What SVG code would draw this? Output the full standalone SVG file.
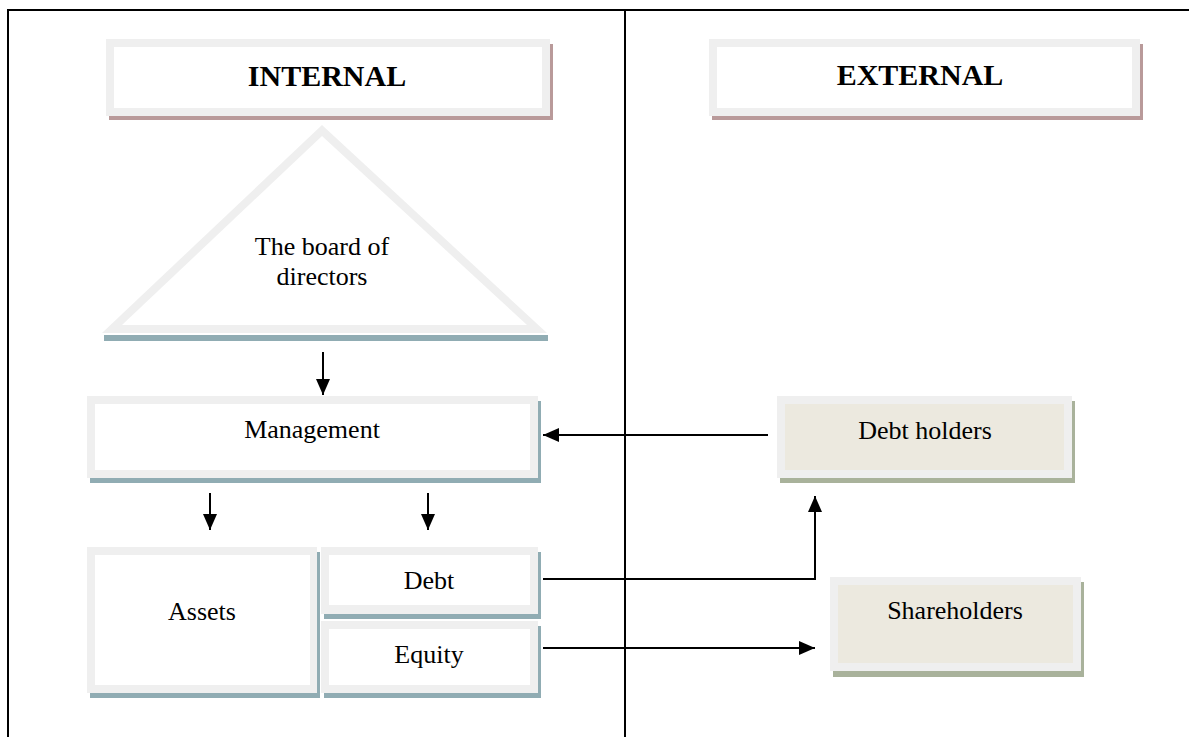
<svg xmlns="http://www.w3.org/2000/svg" width="1189" height="737" viewBox="0 0 1189 737">
<style>
.frame{stroke:#000;stroke-width:2;fill:none}
.border{fill:#efefef}
.inner{fill:#fff}
.beige{fill:#ece9df}
.sh-pink{fill:#b99a9a}
.sh-blue{fill:#90acb3}
.sh-olive{fill:#a9b29b}
.lbl{font-family:"Liberation Serif","Times New Roman",serif;font-size:26px;fill:#000;text-anchor:middle}
.hdr{font-family:"Liberation Serif","Times New Roman",serif;font-size:30px;font-weight:bold;fill:#000;text-anchor:middle}
.conn{stroke:#000;stroke-width:2;fill:none}
</style>
<defs>
<marker id="arr" viewBox="0 0 16 14" refX="16" refY="7" markerWidth="16" markerHeight="14" markerUnits="userSpaceOnUse" orient="auto">
<path d="M0,0 L16,7 L0,14 Z" fill="#000"/>
</marker>
</defs>
<rect width="1189" height="737" fill="#fff"/>
<g id="frame">
<line class="frame" x1="8" y1="10" x2="1189" y2="10"/>
<line class="frame" x1="8" y1="9" x2="8" y2="737"/>
<line class="frame" x1="625" y1="10" x2="625" y2="737"/>
</g>
<g id="internal">
<rect class="sh-pink" x="109" y="44" width="444" height="76"/>
<rect class="border" x="106" y="39" width="444" height="77"/>
<rect class="inner" x="114" y="47" width="428" height="61"/>
<text class="hdr" x="327" y="86">INTERNAL</text>
</g>
<g id="external">
<rect class="sh-pink" x="712" y="44" width="431" height="76"/>
<rect class="border" x="709" y="39" width="431" height="77"/>
<rect class="inner" x="717" y="47" width="415" height="61"/>
<text class="hdr" x="920" y="85">EXTERNAL</text>
</g>
<g id="board">
<rect class="sh-blue" x="104" y="335" width="444" height="6"/>
<polygon class="border" points="322,125 547,333 102,333"/>
<polygon class="inner" points="322,136 527,325 122,325"/>
<text class="lbl" x="322" y="255">The board of</text>
<text class="lbl" x="322" y="285">directors</text>
</g>
<g id="management">
<rect class="sh-blue" x="90" y="401" width="451" height="82"/>
<rect class="border" x="87" y="396" width="451" height="82"/>
<rect class="inner" x="95" y="404" width="435" height="66"/>
<text class="lbl" x="312" y="438">Management</text>
</g>
<g id="assets">
<rect class="sh-blue" x="90" y="552" width="230" height="146"/>
<rect class="border" x="87" y="547" width="230" height="146"/>
<rect class="inner" x="95" y="555" width="215" height="130"/>
<text class="lbl" x="202" y="620">Assets</text>
</g>
<g id="debt">
<rect class="sh-blue" x="324" y="552" width="217" height="67"/>
<rect class="border" x="321" y="547" width="217" height="67"/>
<rect class="inner" x="329" y="555" width="201" height="50"/>
<text class="lbl" x="429" y="589">Debt</text>
</g>
<g id="equity">
<rect class="sh-blue" x="324" y="626" width="217" height="72"/>
<rect class="border" x="321" y="621" width="217" height="72"/>
<rect class="inner" x="329" y="629" width="201" height="56"/>
<text class="lbl" x="429" y="663">Equity</text>
</g>
<g id="debtholders">
<rect class="sh-olive" x="780" y="401" width="295" height="82"/>
<rect class="border" x="777" y="396" width="295" height="82"/>
<rect class="beige" x="785" y="404" width="279" height="66"/>
<text class="lbl" x="925" y="439">Debt holders</text>
</g>
<g id="shareholders">
<rect class="sh-olive" x="833" y="582" width="251" height="95"/>
<rect class="border" x="830" y="577" width="251" height="94"/>
<rect class="beige" x="838" y="585" width="235" height="78"/>
<text class="lbl" x="955" y="619">Shareholders</text>
</g>
<g id="connectors">
<line class="conn" x1="323" y1="352" x2="323" y2="395" marker-end="url(#arr)"/>
<line class="conn" x1="210" y1="493" x2="210" y2="530" marker-end="url(#arr)"/>
<line class="conn" x1="428" y1="493" x2="428" y2="530" marker-end="url(#arr)"/>
<line class="conn" x1="768" y1="435" x2="543" y2="435" marker-end="url(#arr)"/>
<polyline class="conn" points="543,579 815,579 815,496" marker-end="url(#arr)"/>
<line class="conn" x1="543" y1="648" x2="815" y2="648" marker-end="url(#arr)"/>
</g>
</svg>
